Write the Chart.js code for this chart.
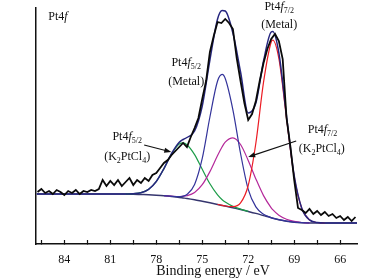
<!DOCTYPE html>
<html>
<head>
<meta charset="utf-8">
<script src="https://cdn.jsdelivr.net/npm/chart.js@4/dist/chart.umd.min.js"></script>
<style>
  html, body { margin: 0; padding: 0; background: #fff; }
  canvas { display: block; }
</style>
</head>
<body>
<canvas id="xpsChart" width="382" height="280"></canvas>
<script>
// Pt4f XPS spectrum, binding energy (eV) on a reversed axis
const serif = '"Liberation Serif", "Times New Roman", serif';

// measured scan
const scanEnergy = [
  85.75, 85.5, 85.25, 85, 84.75, 84.5, 84.25, 84, 83.75, 83.5, 83.25, 83, 82.75, 82.5, 82.25, 82,
  81.75, 81.5, 81.25, 81, 80.75, 80.5, 80.25, 80, 79.75, 79.5, 79.25, 79, 78.75, 78.5, 78.25, 78,
  77.75, 77.5, 77.25, 77, 76.75, 76.5, 76.25, 76, 75.75, 75.5, 75.25, 75, 74.75, 74.5, 74.25, 74,
  73.75, 73.5, 73.25, 73, 72.75, 72.5, 72.25, 72, 71.75, 71.5, 71.25, 71, 70.75, 70.5, 70.25, 70,
  69.75, 69.5, 69.25, 69, 68.75, 68.5, 68.25, 68, 67.75, 67.5, 67.25, 67, 66.75, 66.5, 66.25, 66,
  65.75, 65.5, 65.25, 65
];
const scanCounts = [
  52, 55, 51, 53, 50, 54, 52, 49, 53, 51, 54, 50, 53, 52, 54, 53,
  55, 64, 58, 63, 59, 64, 58, 62, 66, 59, 64, 61, 66, 63, 69, 71,
  76, 81, 84, 89, 93, 97, 101, 97, 107, 116, 126, 145, 163, 192, 208, 222,
  221, 225, 221, 215, 186, 163, 141, 124, 130, 143, 163, 181, 195, 205, 210, 203,
  185, 126, 98, 64, 36, 34, 31, 35, 30, 33, 29, 32, 28, 30, 26, 28,
  24, 27, 23, 27
];

// fitted curves
const energy = [
  85.8, 85, 84, 83, 82, 81, 80, 79.5, 79, 78.5, 78, 77.5, 77, 76.5, 76.25, 76, 75.5, 75, 74.5, 74,
  73.7, 73.5, 73, 72.5, 72, 71.5, 71, 70.5, 70.4, 70, 69.5, 69, 68.5, 68, 67.5, 67, 66, 65, 64.9
];
const background = [
  50, 50, 50, 50, 50, 50, 50, 49.8, 49.5, 49.2, 48.8, 48.3, 47.6, 46.6, 46.05, 45.5, 44.2, 42.7, 41.2, 39.6,
  38.6, 37.9, 36.2, 34.5, 32.6, 30.6, 28.4, 26.2, 25.8, 24.3, 22.8, 21.8, 21.3, 21.1, 21, 21, 21, 21, 21
];
const envelope = [
  50, 50, 50, 50, 50, 50, 50.1, 50.3, 51.3, 54.7, 62.5, 75.4, 90.5, 101.7, 104.5, 106.5, 113, 138, 184, 225,
  233.5, 233, 211, 172, 131, 141, 183, 212, 212.4, 191, 128, 68.5, 35.6, 24.1, 21.5, 21, 21, 21, 21
];
const metal52 = [
  null, null, null, null, null, null, null, null, null, null, null, 48.3, 47.65, 47.3, 47.9, 49.5, 59.6, 85.6, 127, 163,
  169.6, 165.5, 134.2, 90.5, 54.6, 37.1, 29.7, 26.4, 25.9, 24.3, 22.8, 21.8, 21.3, 21.1, null, null, null, null, null
];
const metal72 = [
  null, null, null, null, null, null, null, null, null, null, null, null, null, null, null, null, null, null, null, 39.6,
  38.65, 38, 37.4, 41.1, 58.5, 101, 161.8, 202, 203.8, 185.5, 125.6, 67.4, 35.4, 24.1, 21.5, 21, null, null, null
];
const chloride52 = [
  null, null, null, null, null, null, 50.1, 50.3, 51.3, 54.7, 62.5, 75.4, 90.2, 100.1, 101.05, 99.3, 89.4, 74.7, 60.2, 49.1,
  44.3, 41.9, 37.6, 34.9, 32.7, null, null, null, null, null, null, null, null, null, null, null, null, null, null
];
const chloride72 = [
  null, null, null, null, null, null, null, null, null, null, null, 48.3, 47.8, 47.5, 47.65, 48.3, 51.6, 59.3, 72.4, 88.5,
  97.3, 101.9, 106.2, 99.5, 83.6, 65.1, 48.4, 36.2, 34.3, 28.8, 24.8, 22.6, 21.5, 21.1, null, null, null, null, null
];

// axis ticks
const tickValues = [85.5, 84, 82.5, 81, 79.5, 78, 76.5, 75, 73.5, 72, 70.5, 69, 67.5, 66];
const tickLabels = [84, 81, 78, 75, 72, 69, 66];

// labels: [binding energy, intensity] anchors
const notes = [
  { e: 85.05, v: 227, align: 'left', runs: [['Pt4', ''], ['f', 'i']] },
  { e: 76.05, v: 181, runs: [['Pt4', ''], ['f', 'i'], ['5/2', 's']] },
  { e: 76.05, v: 162, runs: [['(Metal)', '']] },
  { e: 69.98, v: 237, runs: [['Pt4', ''], ['f', 'i'], ['7/2', 's']] },
  { e: 69.98, v: 219, runs: [['(Metal)', '']] },
  { e: 79.9, v: 107, runs: [['Pt4', ''], ['f', 'i'], ['5/2', 's']] },
  { e: 79.9, v: 87, runs: [['(K', ''], ['2', 's'], ['PtCl', ''], ['4', 's'], [')', '']] },
  { e: 67.15, v: 114, runs: [['Pt4', ''], ['f', 'i'], ['7/2', 's']] },
  { e: 67.2, v: 95, runs: [['(K', ''], ['2', 's'], ['PtCl', ''], ['4', 's'], [')', '']] }
];
const arrows = [
  { from: [78.79, 99], to: [77.02, 92] },
  { from: [68.87, 103], to: [72.0, 87] }
];

const toPoints = (xs, ys) => xs.map((x, i) => ({ x: x, y: ys[i] }));

function runFont(kind) {
  if (kind === 'i') return 'italic 12px ' + serif;
  if (kind === 's') return '8px ' + serif;
  return '12px ' + serif;
}

function drawRuns(ctx, runs, x, y, align) {
  let total = 0;
  runs.forEach(r => { ctx.font = runFont(r[1]); total += ctx.measureText(r[0]).width; });
  let cx = align === 'left' ? x : x - total / 2;
  runs.forEach(r => {
    ctx.font = runFont(r[1]);
    ctx.fillText(r[0], cx, r[1] === 's' ? y + 4 : y);
    cx += ctx.measureText(r[0]).width;
  });
}

const notesPlugin = {
  id: 'notes',
  afterDraw(chart) {
    const ctx = chart.ctx;
    const xs = chart.scales.x, ys = chart.scales.y;
    ctx.save();
    ctx.fillStyle = '#111';
    ctx.textBaseline = 'middle';
    ctx.textAlign = 'left';
    notes.forEach(n => {
      drawRuns(ctx, n.runs, xs.getPixelForValue(n.e), ys.getPixelForValue(n.v), n.align);
    });

    ctx.strokeStyle = '#111';
    ctx.lineWidth = 1.2;
    arrows.forEach(a => {
      const x1 = xs.getPixelForValue(a.from[0]), y1 = ys.getPixelForValue(a.from[1]);
      const x2 = xs.getPixelForValue(a.to[0]), y2 = ys.getPixelForValue(a.to[1]);
      const ang = Math.atan2(y2 - y1, x2 - x1);
      ctx.beginPath();
      ctx.moveTo(x1, y1);
      ctx.lineTo(x2 - 5 * Math.cos(ang), y2 - 5 * Math.sin(ang));
      ctx.stroke();
      ctx.beginPath();
      ctx.moveTo(x2, y2);
      ctx.lineTo(x2 - 7 * Math.cos(ang) + 2.6 * Math.sin(ang), y2 - 7 * Math.sin(ang) - 2.6 * Math.cos(ang));
      ctx.lineTo(x2 - 7 * Math.cos(ang) - 2.6 * Math.sin(ang), y2 - 7 * Math.sin(ang) + 2.6 * Math.cos(ang));
      ctx.closePath();
      ctx.fill();
    });

    // axis title sits a little right of the plot centre
    ctx.font = '14px ' + serif;
    ctx.textAlign = 'center';
    ctx.fillText('Binding energy / eV', chart.chartArea.left + 177, chart.chartArea.bottom + 27);
    ctx.restore();
  }
};

const line = (data, color, width, tension) => ({
  data: data,
  borderColor: color,
  borderWidth: width,
  pointRadius: 0,
  fill: false,
  spanGaps: false,
  cubicInterpolationMode: tension ? 'monotone' : 'default',
  tension: 0
});

new Chart(document.getElementById('xpsChart'), {
  type: 'line',
  data: {
    datasets: [
      line(toPoints(scanEnergy, scanCounts), '#0a0a0a', 1.8, false),
      line(toPoints(energy, envelope), '#26267f', 1.5, true),
      line(toPoints(energy, metal72), '#ec1c24', 1.2, true),
      line(toPoints(energy, metal52), '#33339a', 1.2, true),
      line(toPoints(energy, chloride72), '#b4289a', 1.2, true),
      line(toPoints(energy, chloride52), '#1c9c48', 1.2, true),
      line(toPoints(energy, background), '#35356e', 1.5, true)
    ]
  },
  options: {
    responsive: false,
    animation: false,
    devicePixelRatio: 1,
    layout: { padding: { top: 8, right: 25, left: 0, bottom: 0 } },
    plugins: { legend: { display: false }, tooltip: { enabled: false } },
    scales: {
      x: {
        type: 'linear',
        reverse: true,
        min: 64.9,
        max: 85.85,
        afterBuildTicks: s => { s.ticks = tickValues.map(v => ({ value: v })); },
        afterFit: s => { s.height = 36; },
        ticks: {
          autoSkip: false,
          maxRotation: 0,
          padding: 13,
          color: '#111',
          font: { family: serif, size: 12 },
          callback: v => tickLabels.includes(v) ? String(v) : ''
        },
        grid: { drawOnChartArea: false, drawTicks: true, tickLength: -4, tickColor: '#111', tickWidth: 1.2 },
        border: { display: true, color: '#111', width: 1.5 }
      },
      y: {
        min: 0,
        max: 236,
        afterFit: s => { s.width = 36; },
        ticks: { display: false },
        grid: { display: false },
        border: { display: true, color: '#111', width: 1.5 }
      }
    }
  },
  plugins: [notesPlugin]
});
</script>
</body>
</html>
